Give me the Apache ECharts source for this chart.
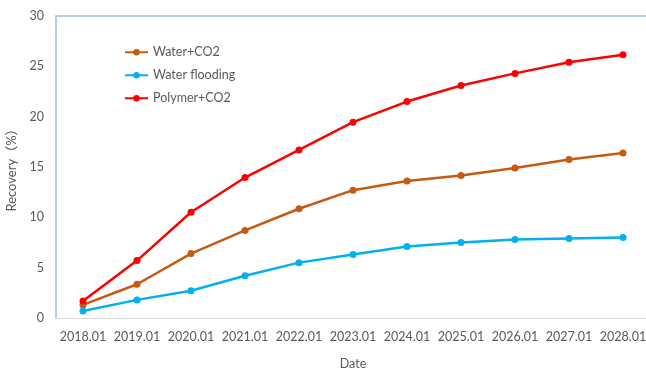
<!DOCTYPE html>
<html>
<head>
<meta charset="utf-8">
<script src="https://cdn.jsdelivr.net/npm/echarts@6/dist/echarts.min.js"></script>
<style>
  html, body { margin: 0; padding: 0; background: #fff; }
  #chart { width: 646px; height: 369px; }
</style>
</head>
<body>
<div id="chart"></div>
<script>
// Recovery forecast by development scheme
const dates = ['2018.01', '2019.01', '2020.01', '2021.01', '2022.01', '2023.01',
               '2024.01', '2025.01', '2026.01', '2027.01', '2028.01'];
const waterCO2 = [1.3, 3.35, 6.4, 8.7, 10.85, 12.7, 13.6, 14.15, 14.9, 15.75, 16.4];
const waterFlooding = [0.7, 1.8, 2.7, 4.2, 5.5, 6.3, 7.1, 7.5, 7.8, 7.9, 8.0];
const polymerCO2 = [1.7, 5.7, 10.5, 13.95, 16.7, 19.45, 21.5, 23.1, 24.3, 25.4, 26.15];
const yTicks = { min: 0, max: 30, interval: 5 };

const FONT = 'Lato, "Noto Sans CJK SC", sans-serif';
const TEXT = '#595959';

function lineSeries(name, data, color) {
  return {
    name: name,
    type: 'line',
    data: data,
    symbol: 'circle',
    symbolSize: 7,
    lineStyle: { color: color, width: 2.5 },
    itemStyle: { color: color },
    emphasis: { disabled: true }
  };
}

const chart = echarts.init(document.getElementById('chart'));
chart.setOption({
  animation: false,
  textStyle: { fontFamily: FONT },
  grid: { left: 56, top: 16, width: 594, height: 302, containLabel: false, outerBoundsMode: 'none' },
  legend: {
    show: true,
    orient: 'vertical',
    left: 124,
    top: 46,
    padding: 0,
    itemWidth: 23,
    itemHeight: 8,
    itemGap: 10.5,
    textStyle: { color: TEXT, fontSize: 12.5, fontFamily: FONT },
    data: ['Water+CO2', 'Water flooding', 'Polymer+CO2']
  },
  xAxis: [{
    type: 'category',
    data: dates,
    boundaryGap: true,
    name: 'Date',
    nameLocation: 'middle',
    nameGap: 40,
    nameTextStyle: { color: TEXT, fontSize: 12.5 },
    axisLine: { lineStyle: { color: '#D9D9D9', width: 1 } },
    axisTick: { show: false },
    axisLabel: { color: TEXT, fontSize: 12.5, margin: 13, interval: 0 },
    splitLine: { show: false }
  }, {
    type: 'category',
    data: dates,
    position: 'top',
    axisLine: { lineStyle: { color: '#9DC3E6', width: 1.5 } },
    axisTick: { show: false },
    axisLabel: { show: false },
    splitLine: { show: false }
  }],
  yAxis: {
    type: 'value',
    min: yTicks.min,
    max: yTicks.max,
    interval: yTicks.interval,
    name: 'Recovery（%）',
    nameLocation: 'middle',
    nameGap: 31,
    nameRotate: 90,
    nameTextStyle: { color: TEXT, fontSize: 13 },
    axisLine: { show: true, lineStyle: { color: '#9DC3E6', width: 1.5 } },
    axisTick: { show: false },
    axisLabel: { color: TEXT, fontSize: 12.5, margin: 12 },
    splitLine: { show: false }
  },
  series: [
    lineSeries('Water+CO2', waterCO2, '#C55A11'),
    lineSeries('Water flooding', waterFlooding, '#00B0F0'),
    lineSeries('Polymer+CO2', polymerCO2, '#FF0000')
  ]
});
</script>
</body>
</html>
